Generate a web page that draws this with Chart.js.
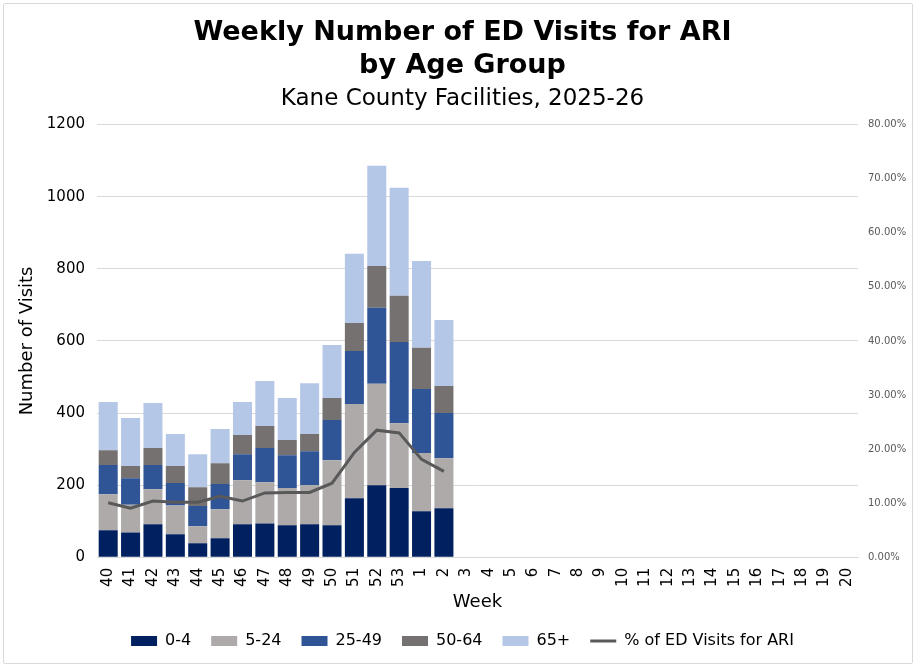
<!DOCTYPE html>
<html>
<head>
<meta charset="utf-8">
<script src="https://cdn.jsdelivr.net/npm/chart.js@4"></script>
<style>
  html, body { margin: 0; padding: 0; background: #fff; }
  #wrap { position: relative; width: 920px; height: 669px; }
  #frame { position: absolute; left: 3px; top: 3px; width: 908px; height: 659px;
           border: 1px solid #d9d9d9; border-radius: 2px; pointer-events: none; }
  canvas { position: absolute; left: 0; top: 0; }
</style>
</head>
<body>
<div id="wrap">
  <canvas id="ariChart" width="920" height="669"></canvas>
  <div id="frame"></div>
</div>
<script>
// weeks of the 2025-26 season
var weeks = ['40','41','42','43','44','45','46','47','48','49','50','51','52','53',
             '1','2','3','4','5','6','7','8','9','10','11','12','13','14','15','16','17','18','19','20'];

// ED visits by age group (weeks 3-20 not reported yet)
var age0to4   = [75, 69, 92, 64, 39, 53, 92, 94, 89, 92, 89, 164, 200, 192, 128, 136];
var age5to24  = [100, 77, 97, 80, 47, 80, 122, 114, 103, 108, 180, 261, 281, 180, 161, 139];
var age25to49 = [81, 73, 67, 62, 56, 70, 72, 95, 91, 94, 112, 147, 211, 225, 178, 125];
var age50to64 = [41, 34, 47, 47, 52, 58, 53, 61, 42, 48, 61, 78, 116, 128, 114, 75];
var age65plus = [134, 133, 125, 89, 92, 95, 92, 125, 117, 141, 147, 192, 278, 300, 241, 183];

// percent of all ED visits that were for ARI
var pctAri = [10.1, 9.1, 10.4, 10.2, 10.2, 11.3, 10.4, 11.9, 12.0, 12.0, 13.7, 19.4, 23.5, 23.0, 18.1, 15.9];

var fontName = 'DejaVu Sans';

function barSet(label, data, color) {
  return {
    type: 'bar',
    label: label,
    data: data,
    backgroundColor: color,
    borderWidth: 0,
    stack: 'visits',
    yAxisID: 'y',
    categoryPercentage: 1.0,
    barPercentage: 0.85,
    order: 2
  };
}

var ctx = document.getElementById('ariChart').getContext('2d');
var ariChart = new Chart(ctx, {
  type: 'bar',
  data: {
    labels: weeks,
    datasets: [
      barSet('0-4', age0to4, '#002060'),
      barSet('5-24', age5to24, '#aeaaaa'),
      barSet('25-49', age25to49, '#2f5597'),
      barSet('50-64', age50to64, '#767171'),
      barSet('65+', age65plus, '#b4c7e7'),
      {
        type: 'line',
        label: '% of ED Visits for ARI',
        data: pctAri,
        yAxisID: 'y1',
        borderColor: '#595959',
        backgroundColor: '#595959',
        borderWidth: 3,
        pointRadius: 0,
        fill: false,
        tension: 0,
        order: 1
      }
    ]
  },
  options: {
    responsive: false,
    animation: false,
    devicePixelRatio: 1,
    layout: { padding: { left: 17, right: 12, top: 8, bottom: 10 } },
    plugins: {
      title: {
        display: true,
        text: ['Weekly Number of ED Visits for ARI', 'by Age Group'],
        color: '#000',
        font: { family: fontName, size: 27, weight: 'bold', lineHeight: 1.24 },
        padding: { top: 8, bottom: 0 }
      },
      subtitle: {
        display: true,
        text: 'Kane County Facilities, 2025-26',
        color: '#000',
        font: { family: fontName, size: 23, weight: 'normal' },
        padding: { top: 2, bottom: 12 }
      },
      legend: {
        position: 'bottom',
        labels: {
          color: '#000',
          font: { family: fontName, size: 16 },
          usePointStyle: true,
          pointStyleWidth: 26,
          boxHeight: 10,
          padding: 20,
          sort: function (a, b) { return a.datasetIndex - b.datasetIndex; },
          generateLabels: function (chart) {
            var items = Chart.defaults.plugins.legend.labels.generateLabels(chart);
            items.forEach(function (it) {
              var ds = chart.data.datasets[it.datasetIndex];
              if (ds.type === 'line') {
                it.pointStyle = 'line';
                it.lineWidth = 3;
                it.strokeStyle = '#595959';
              } else {
                it.pointStyle = 'rect';
                it.lineWidth = 0;
              }
            });
            return items;
          }
        }
      },
      tooltip: { enabled: false }
    },
    scales: {
      x: {
        stacked: true,
        grid: { display: false },
        border: { color: '#d9d9d9' },
        ticks: {
          color: '#000',
          font: { family: fontName, size: 15 },
          minRotation: 90,
          maxRotation: 90,
          autoSkip: false,
          padding: 2.5
        },
        title: {
          display: true,
          text: 'Week',
          color: '#000',
          font: { family: fontName, size: 18 },
          padding: { top: 2, bottom: 0 }
        }
      },
      y: {
        stacked: true,
        position: 'left',
        min: 0,
        max: 1200,
        ticks: {
          stepSize: 200,
          color: '#000',
          font: { family: fontName, size: 15 },
          padding: 12,
          callback: function (v) { return String(v); }
        },
        grid: { color: '#d9d9d9', drawTicks: false },
        border: { display: false },
        title: {
          display: true,
          text: 'Number of Visits',
          color: '#000',
          font: { family: fontName, size: 18 },
          padding: { top: 0, bottom: 6 }
        },
        afterFit: function (scale) { scale.width = 80; }
      },
      y1: {
        position: 'right',
        min: 0,
        max: 80,
        ticks: {
          stepSize: 10,
          color: '#595959',
          font: { family: fontName, size: 10 },
          padding: 10,
          callback: function (v) { return v.toFixed(2) + '%'; }
        },
        grid: { display: false, drawTicks: false },
        border: { display: false },
        afterFit: function (scale) { scale.width = 50; }
      }
    }
  }
});
</script>
</body>
</html>
